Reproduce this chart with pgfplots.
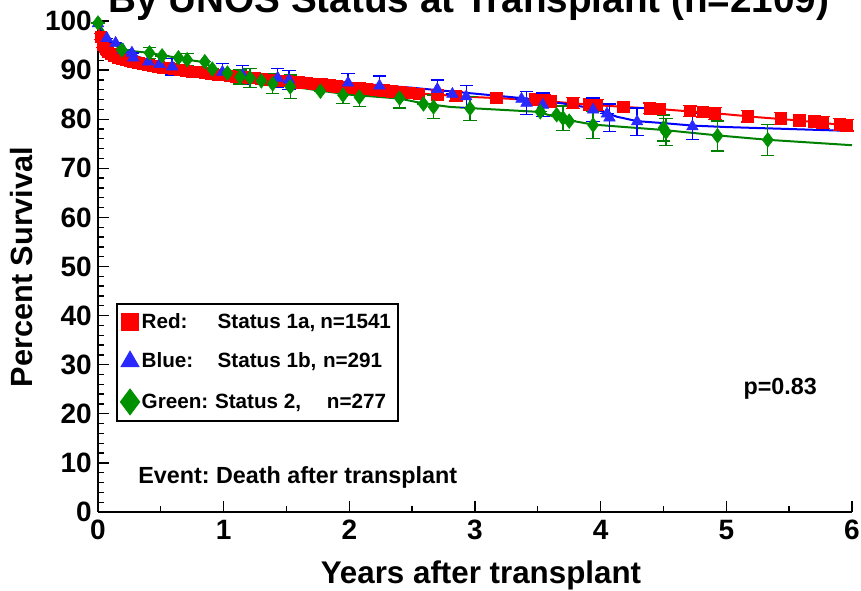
\documentclass[border=0pt]{standalone}
\usepackage{pgfplots}
\pgfplotsset{compat=1.18}
\usepackage{fontspec}
\setmainfont{Liberation Sans}
\frenchspacing
\definecolor{cred}{RGB}{255,0,0}
\definecolor{cblue}{RGB}{0,0,255}
\definecolor{cgreen}{RGB}{0,128,0}
\definecolor{mgreen}{RGB}{0,145,0}
\definecolor{mblue}{RGB}{40,40,255}
\begin{document}
\begin{tikzpicture}
\begin{axis}[
  scale only axis, width=565.5pt, height=368.25pt,
  xmin=0, xmax=6, ymin=0, ymax=100,
  axis lines*=left,
  axis line style={line width=1.5pt},
  xtick={0,1,2,3,4,5,6}, ytick={0,10,20,30,40,50,60,70,80,90,100},
  minor x tick num=1, minor y tick num=4,
  tick align=inside,
  major tick length=8pt, minor tick length=4.5pt,
  tick style={line width=1pt, black},
  /pgf/number format/assume math mode=true,
  tick label style={font=\fontsize{21}{24}\selectfont\bfseries},
  yticklabel style={inner sep=0pt, anchor=east, xshift=-4.5pt},
  xticklabel style={inner sep=0pt, anchor=north, yshift=-6pt},
  clip=false,
  legend style={at={(0.0239,0.4257)}, anchor=north west, draw=black, line width=1.5pt,
    font=\fontsize{15.5}{18}\selectfont\bfseries, inner xsep=3pt, inner ysep=5pt,
    row sep=13pt, cells={anchor=west}},
  legend cell align=left,
  legend image code/.code={\draw[#1] plot coordinates {(0.15cm,0cm)};},
  error bars/y dir=both, error bars/y explicit,
]
% ---------- lines ----------
\addplot[cred, line width=1.5pt, forget plot] coordinates {
(0,100) (0.01,98) (0.02,96.8) (0.03,95.8) (0.05,94.6) (0.08,93.7) (0.1,93.3) (0.15,92.7) (0.2,92.2) (0.3,91.6) (0.4,91.1) (0.5,90.6) (0.6,90.2) (0.8,89.6) (1.0,89.0) (1.2,88.5) (1.5,87.8) (1.8,87.0) (2.0,86.5) (2.25,85.9) (2.5,85.3) (2.75,84.9) (3.0,84.5) (3.25,84.2) (3.5,83.8) (3.75,83.3) (4.0,82.8) (4.25,82.4) (4.5,82.0) (4.75,81.5) (5.0,81.0) (5.25,80.4) (5.5,79.9) (5.75,79.3) (6.0,78.6)};
\addplot[cblue, line width=1.5pt, forget plot] coordinates {
(0,100) (0.03,98) (0.07,96.5) (0.14,95.3) (0.2,94.2) (0.3,92.9) (0.4,92.0) (0.5,91.3) (0.6,90.7) (0.8,90.0) (1.0,89.5) (1.25,88.9) (1.5,88.4) (1.75,87.9) (2.0,87.4) (2.25,86.9) (2.5,86.4) (2.75,85.8) (3.0,85.2) (3.37,84.3) (3.7,83.2) (3.94,82.2) (4.13,80.5) (4.29,79.6) (4.5,79.2) (4.73,78.7) (5.0,78.4) (5.5,78.0) (6.0,77.6)};
\addplot[cgreen, line width=1.5pt, forget plot] coordinates {
(0,100) (0.03,98.5) (0.08,96.5) (0.15,94.8) (0.2,94.2) (0.3,93.8) (0.41,93.5) (0.51,93.0) (0.64,92.5) (0.71,92.1) (0.85,91.6) (0.91,90.4) (1.03,89.4) (1.13,88.7) (1.3,87.8) (1.5,86.8) (1.77,85.8) (2.0,85.0) (2.4,84.2) (2.59,83.2) (2.8,82.5) (3.0,82.2) (3.5,81.5) (3.7,80.0) (3.94,78.9) (4.5,77.8) (4.93,76.7) (5.33,75.8) (6.0,74.7)};
% ---------- markers ----------
\addplot[only marks, mark=square*, mark size=4.2pt, color=cred, forget plot,
  error bars/error bar style={line width=1pt, cred},
  error bars/error mark options={rotate=90, mark size=5pt, line width=1pt, cred}]
table[x=x, y=y, y error=e] {
x y e
0.02 96.8 0.6
0.04 95.2 0.6
0.06 94.3 0.6
0.08 93.7 0.6
0.10 93.3 0.6
0.13 92.9 0.6
0.16 92.6 0.6
0.19 92.3 0.6
0.22 92.1 0.7
0.25 91.9 0.7
0.28 91.7 0.7
0.32 91.5 0.7
0.36 91.3 0.7
0.40 91.1 0.7
0.44 90.9 0.7
0.48 90.7 0.7
0.52 90.5 0.7
0.56 90.4 0.7
0.60 90.2 0.8
0.65 90.0 0.8
0.70 89.9 0.8
0.75 89.7 0.8
0.80 89.6 0.8
0.85 89.4 0.8
0.90 89.3 0.8
0.95 89.1 0.8
1.00 89.0 0.8
1.05 88.9 0.8
1.10 88.7 0.8
1.15 88.6 0.8
1.20 88.5 0.8
1.25 88.4 0.9
1.30 88.2 0.9
1.35 88.1 0.9
1.40 88.0 0.9
1.45 87.9 0.9
1.50 87.8 0.9
1.55 87.7 0.9
1.60 87.5 0.9
1.66 87.4 0.9
1.72 87.2 0.9
1.78 87.1 0.9
1.84 86.9 0.9
1.90 86.7 0.9
1.96 86.6 0.9
2.02 86.4 0.9
2.08 86.3 0.9
2.14 86.2 0.9
2.20 86.0 1.0
2.27 85.9 1.0
2.34 85.7 1.0
2.41 85.5 1.0
2.48 85.4 1.0
2.55 85.2 1.0
2.70 84.9 1.0
2.85 84.7 1.0
3.17 84.3 1.1
3.48 84.0 1.1
3.55 83.9 1.1
3.60 83.6 1.1
3.78 83.3 1.1
3.91 83.0 1.1
3.97 82.9 1.1
4.18 82.5 1.1
4.39 82.2 1.1
4.47 82.1 1.1
4.71 81.7 1.1
4.81 81.5 1.1
4.91 81.2 1.2
5.17 80.6 1.2
5.43 80.1 1.2
5.58 79.8 1.2
5.70 79.5 1.2
5.77 79.3 1.2
5.90 78.9 1.2
5.96 78.8 1.2
};
\addplot[only marks, mark=triangle*, mark size=5pt, color=mblue, forget plot,
  error bars/error bar style={line width=1pt, cblue},
  error bars/error mark options={rotate=90, mark size=5pt, line width=1pt, cblue}]
table[x=x, y=y, y error=e] {
x y e
0.00 99.5 0
0.07 96.5 0
0.14 95.5 0
0.20 94.1 0
0.27 93.5 0
0.28 92.5 0
0.40 91.7 0
0.49 91.2 0
0.59 90.7 1.7
0.99 89.6 1.7
1.15 89.0 1.9
1.43 88.4 1.9
1.52 88.0 1.9
1.99 87.4 1.9
2.24 86.8 2.0
2.70 86.1 1.9
2.82 85.1 0
2.93 84.6 2.2
3.37 84.1 0
3.41 83.3 2.3
3.54 82.9 2.4
3.94 81.9 2.4
4.05 81.1 0
4.07 80.3 2.8
4.29 79.5 2.8
4.73 78.5 2.7
};
\addplot[only marks, mark=diamond*, mark size=5.5pt, color=mgreen, forget plot,
  error bars/error bar style={line width=1pt, cgreen},
  error bars/error mark options={rotate=90, mark size=5pt, line width=1pt, cgreen}]
table[x=x, y=y, y error=e] {
x y e
0.00 99.6 0
0.19 94.1 0
0.41 93.5 1.1
0.51 92.9 0
0.64 92.5 0
0.71 92.1 1.3
0.85 91.7 0
0.91 90.2 0
1.03 89.4 0
1.13 88.6 1.4
1.21 88.4 1.9
1.30 87.8 0
1.39 87.2 2.0
1.53 86.6 2.4
1.77 85.7 0
1.95 84.9 1.7
2.08 84.5 1.9
2.40 84.3 2.0
2.59 83.1 0
2.67 82.5 2.4
2.96 82.2 2.4
3.52 81.5 0
3.65 80.9 0
3.70 80.2 2.5
3.75 79.6 0
3.94 78.8 2.75
4.50 78.2 2.65
4.52 77.4 2.75
4.93 76.6 3.05
5.33 75.8 3.15
};
% ---------- legend ----------
\addlegendimage{only marks, mark=square*, mark size=6pt, color=cred}
\addlegendentry{\makebox[57pt][l]{Red:}\makebox[77pt][l]{Status 1a,}n=1541}
\addlegendimage{only marks, mark=triangle*, mark size=6.9pt, color=mblue}
\addlegendentry{\makebox[57pt][l]{Blue:}\makebox[79pt][l]{Status 1b,}n=291}
\addlegendimage{only marks, mark=diamond*, mark size=9pt, color=mgreen}
\addlegendentry{\makebox[55pt][l]{Green:}\makebox[84pt][l]{Status 2,}n=277}
\end{axis}
% ---------- texts ----------
\node[anchor=base, font=\fontsize{29}{32}\selectfont\bfseries] at (278.25pt,374.6pt) {By UNOS Status at Transplant (n=2109)};
\node[anchor=base, rotate=90, font=\fontsize{23}{26}\selectfont\bfseries] at (-48.75pt,183.75pt) {Percent Survival};
\node[anchor=base, font=\fontsize{23.5}{26}\selectfont\bfseries] at (287.25pt,-54pt) {Years after transplant};
\node[anchor=base west, inner sep=0pt, font=\fontsize{17.5}{20}\selectfont\bfseries] at (30pt,21pt) {Event: Death after transplant};
\node[anchor=base west, inner sep=0pt, font=\fontsize{17.5}{20}\selectfont\bfseries] at (484pt,87.75pt) {p=0.83};
\pgfresetboundingbox
\path[use as bounding box] (-73.5pt,-59.25pt) rectangle (572.25pt,384pt);
\end{tikzpicture}
\end{document}
